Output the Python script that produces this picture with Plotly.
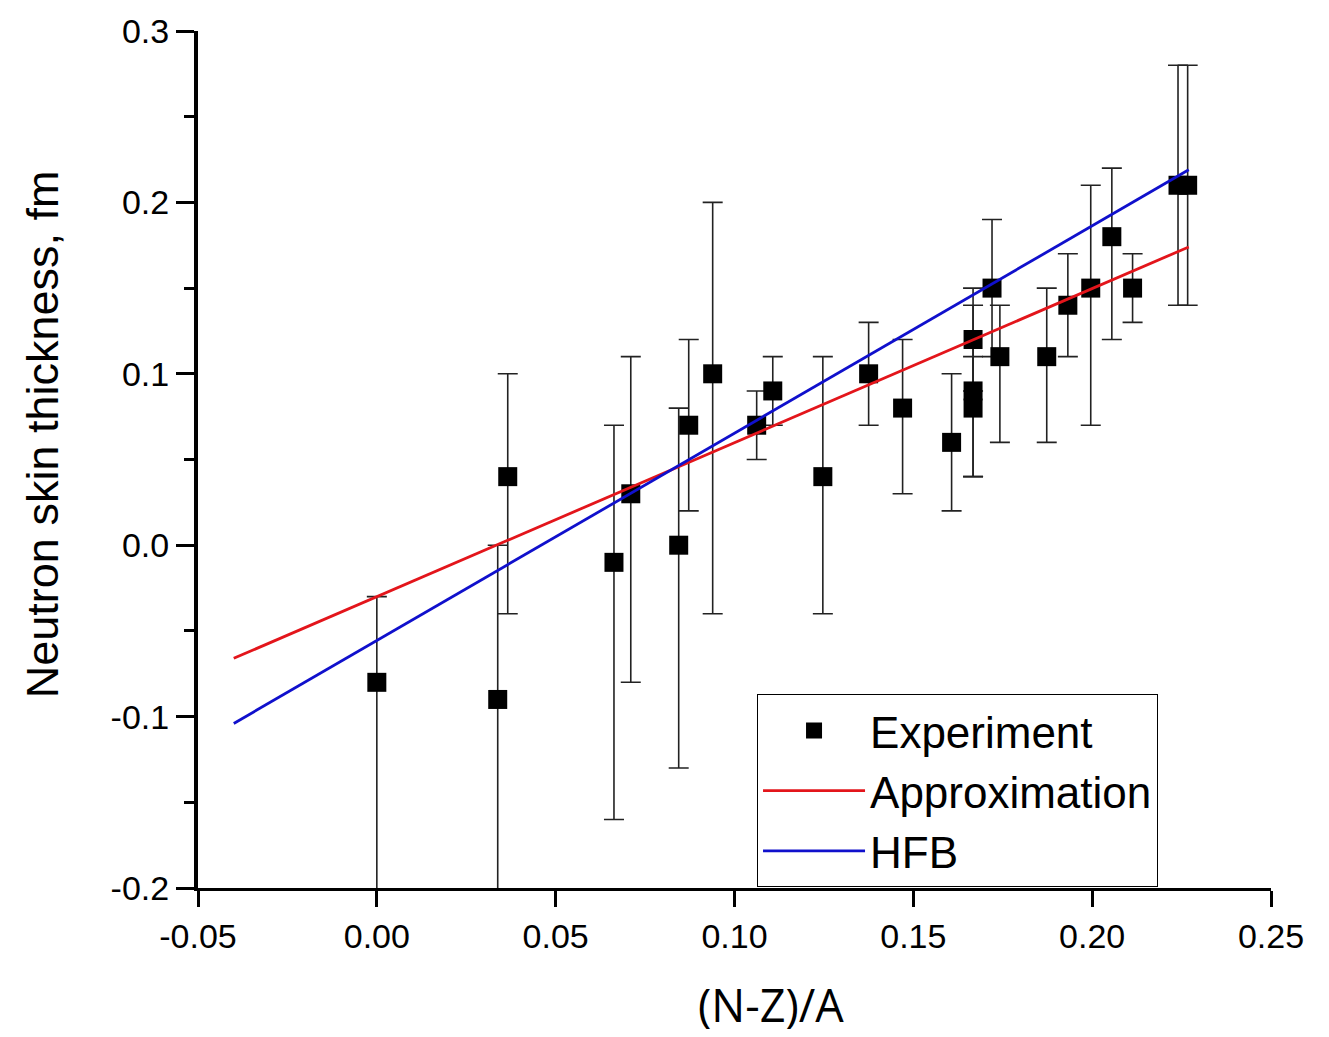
import plotly.graph_objects as go

# ---- data ----
nza = [0.0000, 0.0338, 0.0366, 0.0663, 0.0710, 0.0844, 0.0872, 0.0939, 0.1062,
       0.1107, 0.1247, 0.1375, 0.1470, 0.1607, 0.1667, 0.1667, 0.1667, 0.1720,
       0.1742, 0.1873, 0.1932, 0.1996, 0.2055, 0.2113, 0.2240, 0.2267]
skin = [-0.08, -0.09, 0.04, -0.01, 0.03, 0.00, 0.07, 0.10, 0.07,
        0.09, 0.04, 0.10, 0.08, 0.06, 0.12, 0.09, 0.08, 0.15,
        0.11, 0.11, 0.14, 0.15, 0.18, 0.15, 0.21, 0.21]
err_plus = [0.05, 0.09, 0.06, 0.08, 0.08, 0.08, 0.05, 0.10, 0.02,
            0.02, 0.07, 0.03, 0.04, 0.04, 0.03, 0.05, 0.03, 0.04,
            0.03, 0.04, 0.03, 0.06, 0.04, 0.02, 0.07, 0.07]
err_minus = [0.15, 0.15, 0.08, 0.15, 0.11, 0.13, 0.05, 0.14, 0.02,
             0.02, 0.08, 0.03, 0.05, 0.04, 0.03, 0.05, 0.04, 0.04,
             0.05, 0.05, 0.03, 0.08, 0.06, 0.02, 0.07, 0.07]

line_x = [-0.04, 0.227]
approx_y = [-0.066, 0.174]
hfb_y = [-0.104, 0.219]

x_ticks = [-0.05, 0.00, 0.05, 0.10, 0.15, 0.20, 0.25]
x_tick_labels = ["-0.05", "0.00", "0.05", "0.10", "0.15", "0.20", "0.25"]
y_ticks = [-0.2, -0.1, 0.0, 0.1, 0.2, 0.3]
y_tick_labels = ["-0.2", "-0.1", "0.0", "0.1", "0.2", "0.3"]

FONT = "Liberation Sans, Arial, sans-serif"

fig = go.Figure()
fig.add_trace(go.Scatter(
    x=nza, y=skin, mode="markers", name="Experiment",
    marker=dict(symbol="square", size=19, color="black"),
    error_y=dict(type="data", symmetric=False, array=err_plus, arrayminus=err_minus,
                 color="#222222", thickness=1.6, width=10),
))
fig.add_trace(go.Scatter(
    x=line_x, y=approx_y, mode="lines", name="Approximation",
    line=dict(color="#e3151b", width=2.8),
))
fig.add_trace(go.Scatter(
    x=line_x, y=hfb_y, mode="lines", name="HFB",
    line=dict(color="#1010cc", width=2.8),
))

fig.update_layout(
    width=1329, height=1037,
    margin=dict(l=198, r=58, t=25, b=149),
    paper_bgcolor="white", plot_bgcolor="white",
    font=dict(family=FONT, color="black"),
    showlegend=True,
    legend=dict(
        x=0.521, y=0.226, xanchor="left", yanchor="top",
        bordercolor="black", borderwidth=1, bgcolor="white",
        font=dict(family=FONT, size=44, color="black"),
        itemwidth=102, tracegroupgap=0,
    ),
    annotations=[
        dict(text="Neutron skin thickness, fm", textangle=-90,
             xref="paper", yref="paper", x=-0.145, y=0.53,
             xanchor="center", yanchor="middle", showarrow=False,
             font=dict(family=FONT, size=45, color="black")),
        dict(text="(N-Z)/A", xref="paper", yref="paper", x=0.534, y=-0.1356,
             xanchor="center", yanchor="middle", showarrow=False,
             font=dict(family="Open Sans, Noto Sans, sans-serif", size=45, color="black")),
    ],
)

fig.update_xaxes(
    range=[-0.05, 0.25], tickvals=x_ticks, ticktext=x_tick_labels,
    showgrid=False, zeroline=False,
    showline=True, linecolor="black", linewidth=3,
    ticks="outside", ticklen=16, tickwidth=3, tickcolor="black",
    tickfont=dict(family=FONT, size=34, color="black"),
)
fig.update_yaxes(
    range=[-0.2, 0.3], tickvals=y_ticks, ticktext=y_tick_labels,
    showgrid=False, zeroline=False,
    showline=True, linecolor="black", linewidth=4,
    ticks="outside", ticklen=18, tickwidth=2.5, tickcolor="black",
    tickfont=dict(family=FONT, size=34, color="black"),
    minor=dict(dtick=0.05, tick0=-0.2, ticks="outside", ticklen=10, tickwidth=2.5, tickcolor="black"),
)

fig.write_html("out.html")
